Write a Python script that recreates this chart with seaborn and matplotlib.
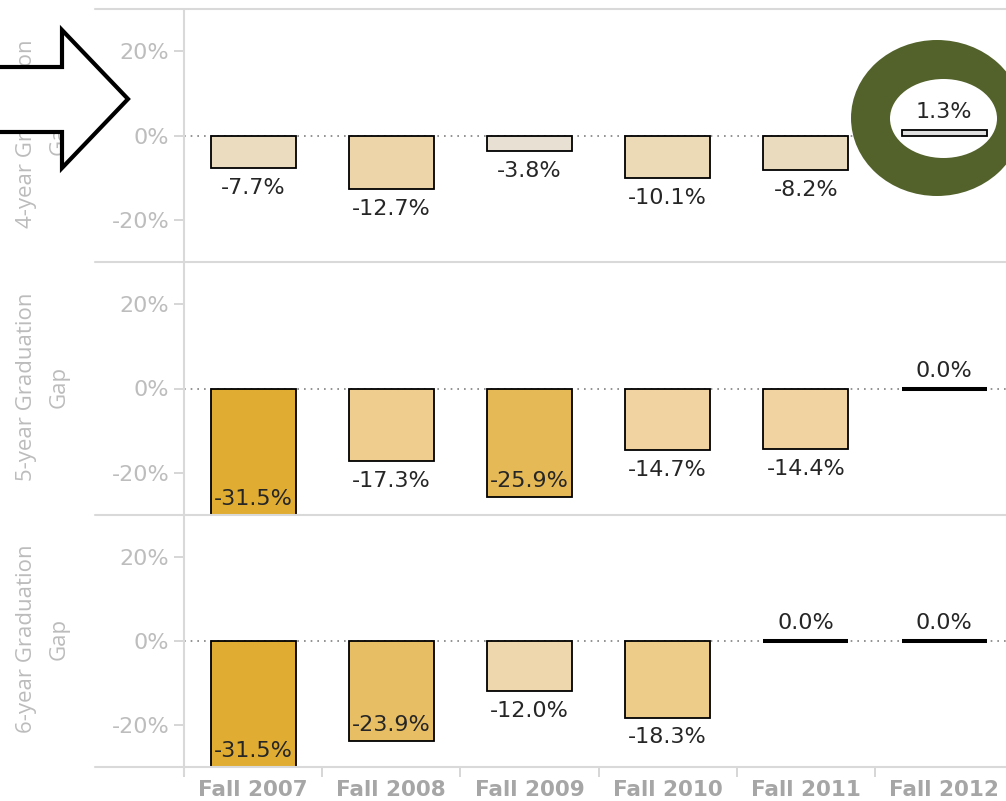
import matplotlib
matplotlib.use('Agg')

import numpy as np
import seaborn as sns
from matplotlib import pyplot as plt
from matplotlib.colors import LinearSegmentedColormap, Normalize
from matplotlib.lines import Line2D
from matplotlib.patches import Ellipse, Polygon

sns.set_theme(style='white')
plt.rcParams['font.family'] = ['DejaVu Sans']

terms = ['Fall 2007', 'Fall 2008', 'Fall 2009', 'Fall 2010', 'Fall 2011', 'Fall 2012']
gap_4yr = [-7.7, -12.7, -3.8, -10.1, -8.2, 1.3]
gap_5yr = [-31.5, -17.3, -25.9, -14.7, -14.4, 0.0]
gap_6yr = [-31.5, -23.9, -12.0, -18.3, 0.0, 0.0]
row_names = ['4-year Graduation\nGap', '5-year Graduation\nGap', '6-year Graduation\nGap']
ytick_values = [20, 0, -20]
ytick_labels = ['20%', '0%', '-20%']

W, H = 1006, 801
LINE = '#d9d9d9'
TEXT = '#262626'


def fx(px):
    return px / W


def fy(py):
    return 1 - py / H


all_vals = gap_4yr + gap_5yr + gap_6yr
cmap = LinearSegmentedColormap.from_list(
    'gold_gray', [(0.0, '#e0ad32'), (0.5, '#f0d29e'), (0.85, '#e8e1d3'), (1.0, '#e0e0e0')])
norm = Normalize(vmin=min(all_vals), vmax=max(all_vals))

fig = plt.figure(figsize=(W / 100, H / 100), dpi=100)

panels = [(9, 262), (262, 515), (515, 767)]
axes = []
for (top, bot), vals, name in zip(panels, [gap_4yr, gap_5yr, gap_6yr], row_names):
    ax = fig.add_axes([fx(184), fy(bot), 6 * 138.2 / W, (bot - top) / H])
    ax.set_facecolor('none')
    colors = {t: cmap(norm(v)) for t, v in zip(terms, vals)}
    sns.barplot(x=terms, y=vals, hue=terms, palette=colors, legend=False, width=0.615,
                saturation=1, edgecolor='black', linewidth=1.3, ax=ax, zorder=3)
    for p in ax.patches:
        if abs(p.get_height()) < 1e-9:
            p.set_linewidth(2.9)
    ax.set_xlim(-0.5, 5.5)
    ax.set_ylim(-30.1, 30.1)
    ax.axhline(0, color='#808080', ls=(0, (1, 3)), lw=1.2, zorder=1)
    ax.set(xlabel='', ylabel='')
    for s in ax.spines.values():
        s.set_visible(False)
    ax.set_yticks(ytick_values, labels=ytick_labels)
    ax.tick_params(axis='y', left=True, length=7, width=1.2, color='#d0d0d0',
                   labelcolor='#bdbdbd', labelsize=16, pad=3.5)

    ylo = ax.get_ylim()[0]
    for i, v in enumerate(vals):
        lab = f'{v:.1f}%'
        if v >= 0:
            ax.annotate(lab, (i, v), xytext=(0, 5.5), textcoords='offset points',
                        ha='center', va='bottom', fontsize=16, color=TEXT, zorder=4)
        elif v - 6.5 > ylo:
            ax.annotate(lab, (i, v), xytext=(0, -7), textcoords='offset points',
                        ha='center', va='top', fontsize=16, color=TEXT, zorder=4)
        else:
            ax.annotate(lab, (i, max(v, ylo)), xytext=(0, 4.5), textcoords='offset points',
                        ha='center', va='bottom', fontsize=16, color=TEXT, zorder=4)

    fig.text(fx(43), fy((top + bot) / 2 - 2), name, rotation=90, ha='center', va='center',
             multialignment='center', fontsize=16, color='#bcbcbc', linespacing=1.75,
             family=['Open Sans', 'DejaVu Sans'])
    axes.append(ax)

for ax in axes[:2]:
    ax.set_xticks([])
ax3 = axes[2]
ax3.set_xticks(range(len(terms)), labels=terms)
ax3.set_xticks(np.arange(-0.5, len(terms)), minor=True)
ax3.tick_params(axis='x', which='major', bottom=False, length=0, pad=9, labelsize=15.5,
                labelcolor='#a6a6a6')
ax3.tick_params(axis='x', which='minor', bottom=True, length=7, width=1.2, color='#d0d0d0')
for lbl in ax3.get_xticklabels():
    lbl.set_fontweight('bold')

# panel separators and axis line
for py in [9, 262, 515, 767]:
    fig.add_artist(Line2D([fx(95), 1], [fy(py), fy(py)], transform=fig.transFigure,
                          color=LINE, lw=1.5))
fig.add_artist(Line2D([fx(183.5), fx(183.5)], [fy(9), fy(775)], transform=fig.transFigure,
                      color=LINE, lw=1.5))

# green ring around Fall 2012 in the 4-year row
ax1 = axes[0]
ax1.add_patch(Ellipse((fx(937), fy(118)), 172 / W, 156 / H, transform=fig.transFigure,
                      facecolor='#52622a', edgecolor='none', clip_on=False, zorder=1.5))
ax1.add_patch(Ellipse((fx(943.5), fy(118.5)), 107 / W, 79 / H, transform=fig.transFigure,
                      facecolor='white', edgecolor='none', clip_on=False, zorder=1.6))

# outlined arrow pointing at the 4-year row
arrow_px = [(-6, 67), (62, 67), (62, 30), (128, 99), (62, 168), (62, 132), (-6, 132)]
fig.add_artist(Polygon([(fx(x), fy(y)) for x, y in arrow_px], closed=True,
                       transform=fig.transFigure, facecolor='white', edgecolor='black',
                       lw=3, joinstyle='miter', zorder=10))

fig.savefig('out.png', dpi=100)
